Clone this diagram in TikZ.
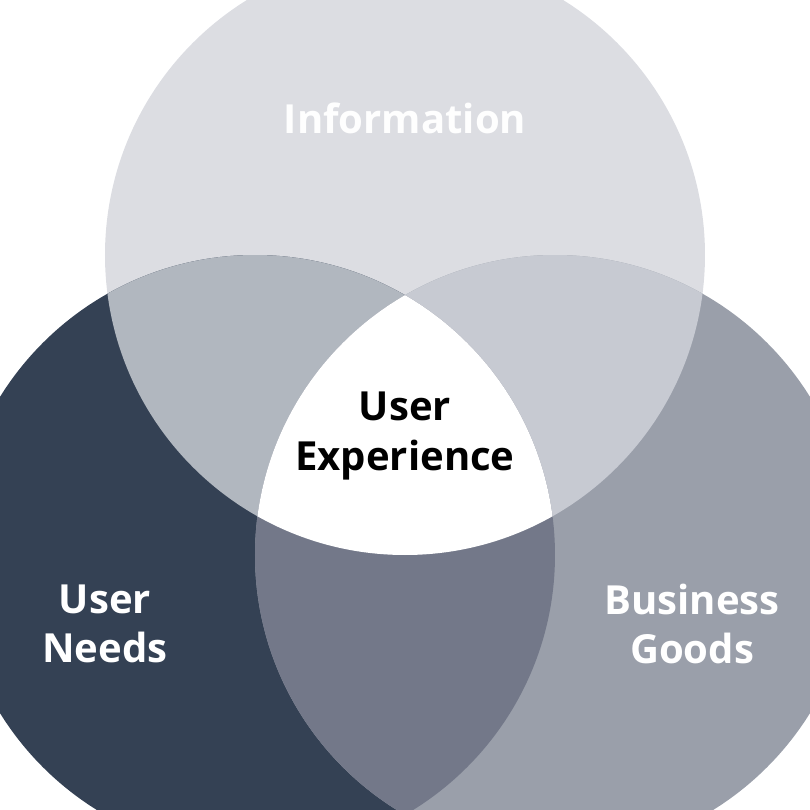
\documentclass[tikz,border=0pt]{standalone}
\usepackage{fontspec}
\setmainfont{Open Sans}
\usepackage{xcolor}
\usepackage{tikz}

\definecolor{infofill}{HTML}{DCDDE2}
\definecolor{needfill}{HTML}{344154}
\definecolor{goodfill}{HTML}{9A9FAA}
\definecolor{infoneed}{HTML}{B1B7BF}
\definecolor{infogood}{HTML}{C7CAD2}
\definecolor{needgood}{HTML}{737889}

\tikzset{
  label/.style={align=center,font=\fontsize{11.4}{14}\selectfont\bfseries,text=white},
}

\begin{document}
\begin{tikzpicture}
    \useasboundingbox (0,0) rectangle (8.1,8.1);
    \clip (0,0) rectangle (8.1,8.1);

    % Circles
    \fill[infofill] (4.05,5.55) circle (3);
    \fill[needfill] (2.55,2.55) circle (3);
    \fill[goodfill] (5.55,2.55) circle (3);

    % Overlaps
    \begin{scope}
        \clip (4.05,5.55) circle (3);
        \fill[infoneed] (2.55,2.55) circle (3);
        \fill[infogood] (5.55,2.55) circle (3);
    \end{scope}
    \begin{scope}
        \clip (2.55,2.55) circle (3);
        \fill[needgood] (5.55,2.55) circle (3);
    \end{scope}
    \begin{scope}
        \clip (4.05,5.55) circle (3);
        \clip (2.55,2.55) circle (3);
        \fill[white] (5.55,2.55) circle (3);
    \end{scope}

    % Labels
    \node[label,text=white!96!infofill] (info) at (4.05,6.92) {Information};
    \node[label,text=black] (ux) at (4.05,3.74) {User\\Experience};
    \node[label] (needs) at (1.05,1.86) {User\\Needs};
    \node[label] (goods) at (6.92,1.86) {Business\\Goods};
\end{tikzpicture}
\end{document}
